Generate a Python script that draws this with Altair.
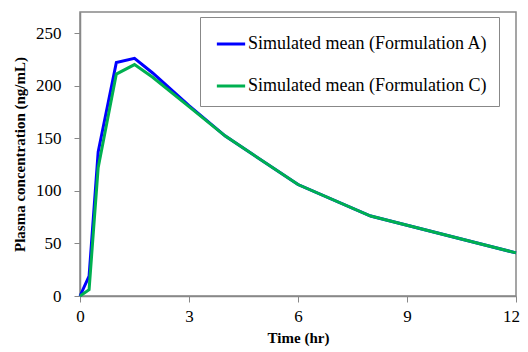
import altair as alt
import pandas as pd

time_hr = [0, 0.25, 0.5, 1, 1.5, 2, 3, 4, 6, 8, 12]
form_a = [0, 19, 137, 222, 226, 212, 181, 152, 106, 76, 41]
form_c = [0, 6, 122, 211, 220, 208, 180, 152, 106, 76, 41]
series = ["Simulated mean (Formulation A)", "Simulated mean (Formulation C)"]
colors = ["#0000FF", "#00B050"]

rows = []
for t, a, c in zip(time_hr, form_a, form_c):
    rows.append({"t": t, "v": a, "s": series[0]})
    rows.append({"t": t, "v": c, "s": series[1]})
df = pd.DataFrame(rows)

font = "Liberation Serif"

chart = alt.Chart(df).mark_line(strokeWidth=3).encode(
    x=alt.X("t:Q", scale=alt.Scale(domain=[0, 12], nice=False),
            axis=alt.Axis(title="Time (hr)", values=[0, 3, 6, 9, 12], grid=False,
                          labelFlush=False, labelOverlap=False,
                          labelOffset={"condition": {"test": "datum.value == 12", "value": -5}, "value": 0},
                          tickSize=6, labelPadding=6, titlePadding=6)),
    y=alt.Y("v:Q", scale=alt.Scale(domain=[0, 270], nice=False),
            axis=alt.Axis(title="Plasma concentration (ng/mL)", values=[0, 50, 100, 150, 200, 250],
                          grid=False, labelFlush=False, labelOverlap=False,
                          tickSize=6, labelPadding=13, titlePadding=8)),
    color=alt.Color("s:N", scale=alt.Scale(domain=series, range=colors),
                    legend=alt.Legend(title=None, orient="none", legendX=120, legendY=5,
                                      symbolType="stroke", symbolSize=800, symbolStrokeWidth=3,
                                      rowPadding=17, padding=11, strokeColor="#888888",
                                      labelFont=font, labelFontSize=18, labelColor="#000",
                                      labelLimit=400, symbolOffset=4, labelOffset=1)),
    detail="s:N",
).properties(width=436, height=284)

chart = chart.properties(
    autosize=alt.AutoSizeParams(type="none"),
    padding={"left": 72, "top": 4, "right": 4, "bottom": 52},
).configure(background="white").configure_view(
    stroke="#888888", strokeWidth=1.5
).configure_axis(
    domainColor="#888888", tickColor="#888888", domainWidth=1.5,
    labelFont=font, labelFontSize=17, labelColor="#000",
    titleFont=font, titleFontSize=15, titleFontWeight="bold", titleColor="#000",
)

chart.save("out.html", embed_options={"renderer": "svg", "actions": False})
